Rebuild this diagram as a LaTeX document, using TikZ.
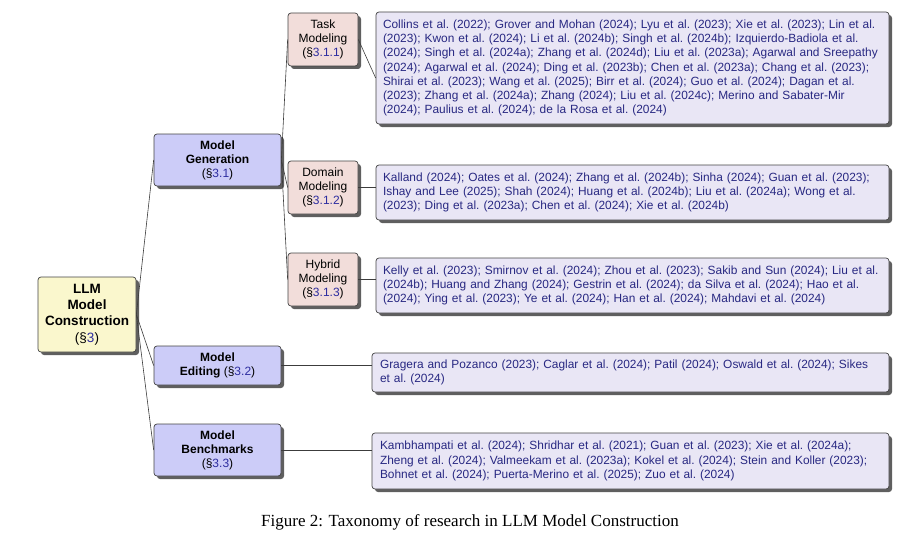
\documentclass[tikz,border=0pt]{standalone}
\usepackage{fontspec}
\setmainfont{Liberation Serif}
\setsansfont{Liberation Sans}
\usetikzlibrary{shadows,calc}

\definecolor{boxline}{RGB}{68,68,68}
\definecolor{edgecol}{RGB}{60,60,60}
\definecolor{shadowcol}{RGB}{95,95,95}
\definecolor{rootfill}{RGB}{250,247,205}
\definecolor{secfill}{RGB}{204,204,248}
\definecolor{subfill}{RGB}{242,221,218}
\definecolor{leaffill}{RGB}{233,230,245}
\definecolor{linkblue}{RGB}{45,45,160}
\definecolor{citeblue}{RGB}{40,40,130}

\newcommand{\secref}[1]{(\S\textcolor{linkblue}{#1})}
% citation lists: no sentence spacing, no hyphenation
\newcommand{\citelist}{\frenchspacing\hyphenpenalty=10000\exhyphenpenalty=10000\sfcode`\;=1500\relax}

\tikzset{
  tbox/.style={draw=boxline, line width=0.7pt, rounded corners=3pt,
    drop shadow={shadow xshift=3pt, shadow yshift=-3pt, fill=shadowcol, opacity=1},
    align=center, inner sep=0pt, anchor=center},
  rootbox/.style={tbox, fill=rootfill, minimum width=98pt, minimum height=75pt,
    font=\sffamily\fontsize{13.5}{16.3}\selectfont},
  secbox/.style={tbox, fill=secfill, minimum width=127pt,
    font=\sffamily\fontsize{12}{14}\selectfont},
  subbox/.style={tbox, fill=subfill, minimum width=70pt, minimum height=53pt,
    font=\sffamily\fontsize{12}{14}\selectfont},
  leafbox/.style={tbox, fill=leaffill, align=left, inner xsep=7pt,
    text=citeblue, font=\sffamily\fontsize{11.9}{14.3}\selectfont\citelist},
  link/.style={draw=edgecol, line width=0.6pt},
}

\begin{document}
\begin{tikzpicture}[x=1pt, y=-1pt]
\useasboundingbox (0,0) rectangle (924,535);

% root and first level
\node[rootbox] (root) at (87,314.5) {\textbf{LLM}\\\textbf{Model}\\\textbf{Construction}\\\secref{3}};
\node[secbox, minimum height=52pt] (gen) at (217.5,160) {\textbf{Model}\\\textbf{Generation}\\\secref{3.1}};
\node[secbox, minimum height=39pt] (edit) at (217.5,365.5) {\textbf{Model}\\\textbf{Editing} \secref{3.2}};
\node[secbox, minimum height=52pt] (bench) at (217.5,450) {\textbf{Model}\\\textbf{Benchmarks}\\\secref{3.3}};

% second level under model generation
\node[subbox] (task) at (323,39.5) {Task\\Modeling\\\secref{3.1.1}};
\node[subbox] (dom) at (323,187.5) {Domain\\Modeling\\\secref{3.1.2}};
\node[subbox] (hyb) at (323,279.5) {Hybrid\\Modeling\\\secref{3.1.3}};

% citation leaves
\node[leafbox, text width=499pt, minimum height=112pt] (tleaf) at (632.5,68) {%
Collins et al. (2022); Grover and Mohan (2024); Lyu et al. (2023); Xie et al. (2023); Lin et al.\\
(2023); Kwon et al. (2024); Li et al. (2024b); Singh et al. (2024b); Izquierdo-Badiola et al.\\
(2024); Singh et al. (2024a); Zhang et al. (2024d); Liu et al. (2023a); Agarwal and Sreepathy\\
(2024); Agarwal et al. (2024); Ding et al. (2023b); Chen et al. (2023a); Chang et al. (2023);\\
Shirai et al. (2023); Wang et al. (2025); Birr et al. (2024); Guo et al. (2024); Dagan et al.\\
(2023); Zhang et al. (2024a); Zhang (2024); Liu et al. (2024c); Merino and Sabater-Mir\\
(2024); Paulius et al. (2024); de la Rosa et al. (2024)};

\node[leafbox, text width=499pt, minimum height=55pt] (dleaf) at (632.5,192.5) {%
Kalland (2024); Oates et al. (2024); Zhang et al. (2024b); Sinha (2024); Guan et al. (2023);\\
Ishay and Lee (2025); Shah (2024); Huang et al. (2024b); Liu et al. (2024a); Wong et al.\\
(2023); Ding et al. (2023a); Chen et al. (2024); Xie et al. (2024b)};

\node[leafbox, text width=499pt, minimum height=55pt] (hleaf) at (632.5,285.5) {%
Kelly et al. (2023); Smirnov et al. (2024); Zhou et al. (2023); Sakib and Sun (2024); Liu et al.\\
(2024b); Huang and Zhang (2024); Gestrin et al. (2024); da Silva et al. (2024); Hao et al.\\
(2024); Ying et al. (2023); Ye et al. (2024); Han et al. (2024); Mahdavi et al. (2024)};

\node[leafbox, inner xsep=8pt, text width=501pt, minimum height=39pt] (eleaf) at (630.5,372.5) {%
Gragera and Pozanco (2023); Caglar et al. (2024); Patil (2024); Oswald et al. (2024); Sikes\\
et al. (2024)};

\node[leafbox, inner xsep=8pt, text width=501pt, minimum height=56pt] (bleaf) at (630.5,461) {%
Kambhampati et al. (2024); Shridhar et al. (2021); Guan et al. (2023); Xie et al. (2024a);\\
Zheng et al. (2024); Valmeekam et al. (2023a); Kokel et al. (2024); Stein and Koller (2023);\\
Bohnet et al. (2024); Puerta-Merino et al. (2025); Zuo et al. (2024)};

% connectors
\path[link] (root.east) -- (gen.west);
\path[link] (root.east) -- (edit.west);
\path[link] (root.east) -- (bench.west);
\path[link] (gen.east) -- (task.west);
\path[link] (gen.east) -- (dom.west);
\path[link] (gen.east) -- (hyb.west);
\path[link] (task.east) -- ($(tleaf.west)+(0,10)$);
\path[link] (dom.east) -- (dom.east -| dleaf.west);
\path[link] (hyb.east) -- (hyb.east -| hleaf.west);
\path[link] (edit.east) -- (edit.east -| eleaf.west);
\path[link] (bench.east) -- (bench.east -| bleaf.west);

% caption
\node[font=\rmfamily\fontsize{17}{20}\selectfont, inner sep=0pt] (cap) at (470,522)
  {Figure 2: Taxonomy of research in LLM Model Construction};
\end{tikzpicture}
\end{document}
